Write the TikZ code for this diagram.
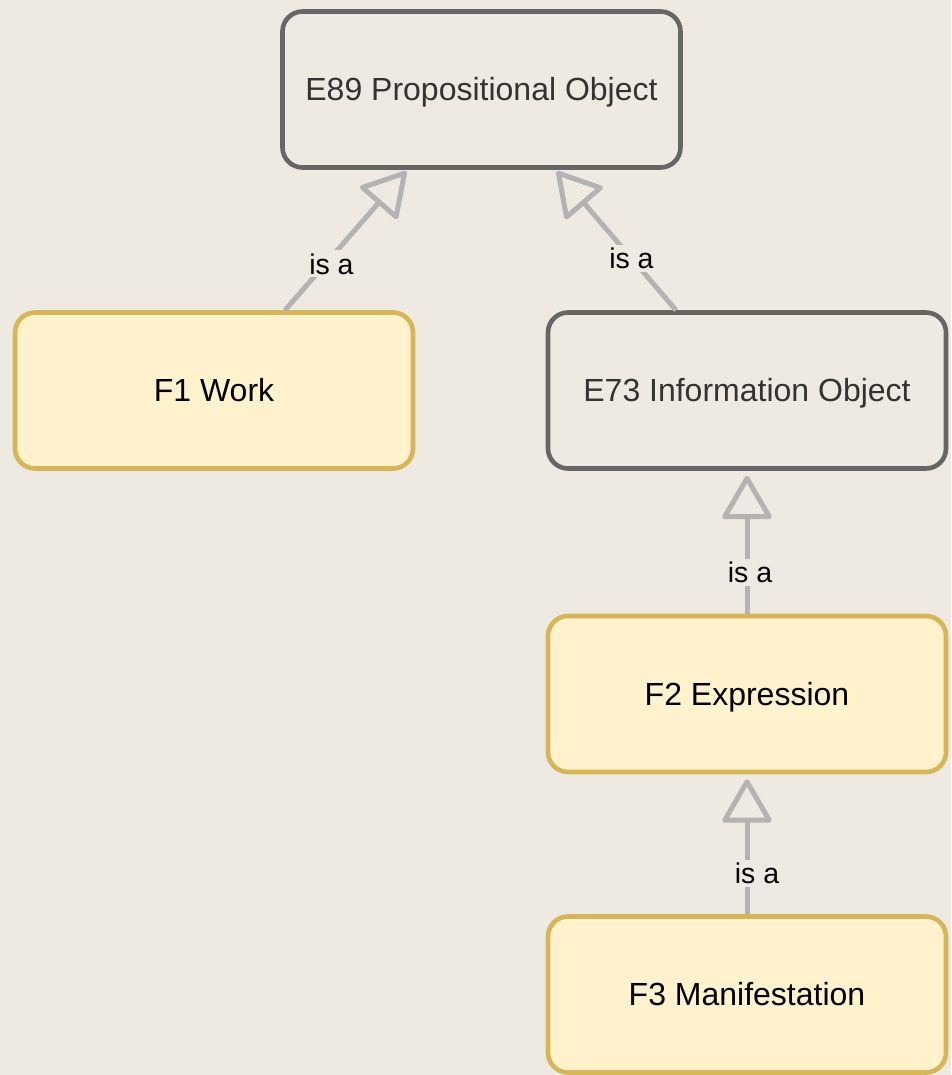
\documentclass[tikz,border=0pt]{standalone}
\usepackage{fontspec}
\setmainfont{Liberation Sans}
\usetikzlibrary{arrows.meta,calc}
\definecolor{bg}{HTML}{EEEAE2}
\definecolor{graystroke}{HTML}{666666}
\definecolor{yelfill}{HTML}{FFF2CC}
\definecolor{yelstroke}{HTML}{D6B656}
\definecolor{edgecol}{HTML}{B3B3B3}
\definecolor{txtgray}{HTML}{333333}
\newcommand{\lowtext}[1]{\raisebox{-3pt}[23pt][7pt]{#1}}
\tikzset{
  box/.style={rectangle, rounded corners=20pt, line width=4.6pt, minimum width=398pt, minimum height=156pt, inner sep=0pt, font=\fontsize{32}{38}\selectfont},
  graybox/.style={box, draw=graystroke, fill=bg, text=txtgray},
  yelbox/.style={box, draw=yelstroke, fill=yelfill, text=black},
  isa/.style={draw=edgecol, line width=5pt, -{Triangle[open, length=46pt, width=52pt, round]}},
  isalabel/.style={fill=bg, inner sep=3pt, text=black, font=\fontsize{28.5}{33}\selectfont}
}
\begin{document}
\begin{tikzpicture}[x=1pt,y=1pt]
\fill[bg] (0,0) rectangle (951,-1075);
\useasboundingbox (0,0) rectangle (951,-1075);
\node[graybox] (E89) at (481.5,-89.5) {\lowtext{E89 Propositional Object}};
\node[yelbox] (F1) at (214,-390.5) {\lowtext{F1 Work}};
\node[graybox] (E73) at (747,-390.5) {\lowtext{E73 Information Object}};
\node[yelbox] (F2) at (747,-694) {\lowtext{F2 Expression}};
\node[yelbox] (F3) at (747,-994.5) {\lowtext{F3 Manifestation}};
\draw[isa, shorten >=2pt] ([xshift=71pt]F1.north) -- node[isalabel, pos=0.33, xshift=6pt] {is a} ([xshift=-74pt]E89.south);
\draw[isa, shorten >=2pt] ([xshift=-71pt]E73.north) -- node[isalabel, pos=0.37] {is a} ([xshift=74pt]E89.south);
\draw[isa, shorten >=5pt] (F2.north) -- node[isalabel, pos=0.29, xshift=3pt] {is a} (E73.south);
\draw[isa, shorten >=5pt] (F3.north) -- node[isalabel, pos=0.29, xshift=10pt] {is a} (F2.south);
\end{tikzpicture}
\end{document}
